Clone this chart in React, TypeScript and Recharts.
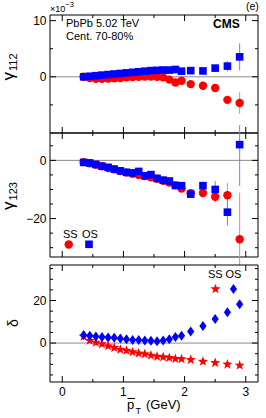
import React from 'react';
import { ScatterChart, Scatter, XAxis, YAxis, ErrorBar, ReferenceLine, ReferenceArea } from 'recharts';

// mean pT bins (GeV)
const ptBins = [0.35, 0.45, 0.55, 0.65, 0.75, 0.85, 0.95, 1.05, 1.15, 1.25, 1.35, 1.45, 1.55, 1.65, 1.75, 1.85, 1.95, 2.1, 2.3, 2.5, 2.7, 2.9];

// gamma112 (x10^-3)
const g112SS = [0.0, -0.2, -0.35, -0.35, -0.3, -0.25, -0.2, -0.1, -0.05, 0.0, 0.05, 0.05, 0.0, -0.1, -0.5, -1.0, -0.7, -1.3, -1.6, -2.0, -4.1, -4.65];
const g112SSErr = [0.05, 0.05, 0.05, 0.05, 0.05, 0.05, 0.05, 0.05, 0.05, 0.05, 0.05, 0.05, 0.05, 0.05, 0.1, 0.1, 0.1, 0.15, 0.2, 0.25, 0.4, 1.9];
const g112OS = [0.0, 0.1, 0.2, 0.3, 0.4, 0.5, 0.6, 0.7, 0.8, 0.9, 1.0, 1.1, 1.15, 1.2, 1.2, 1.3, 1.0, 1.1, 1.05, 1.55, 1.9, 3.55];
const g112OSErr = [0.05, 0.05, 0.05, 0.05, 0.05, 0.05, 0.05, 0.05, 0.05, 0.05, 0.05, 0.05, 0.05, 0.05, 0.1, 0.1, 0.1, 0.15, 0.2, 0.3, 0.9, 2.4];

// gamma123 (x10^-3)
const g123SS = [-0.6, -1.0, -1.5, -2.0, -2.6, -3.1, -3.7, -4.2, -4.6, -5.0, -5.4, -5.8, -6.3, -7.0, -7.6, -8.6, -9.7, -11.3, -11.2, -12.5, -12.0, -27.1];
const g123SSErr = [0.1, 0.1, 0.1, 0.1, 0.1, 0.1, 0.1, 0.1, 0.1, 0.2, 0.2, 0.2, 0.3, 0.3, 0.4, 0.5, 0.6, 0.8, 1.0, 2.0, 4.2, 16];
const g123OS = [-0.7, -0.9, -1.4, -2.0, -2.4, -3.0, -3.6, -4.1, -4.3, -3.8, -5.3, -4.9, -6.2, -6.8, -7.1, -8.6, -8.7, -11.6, -8.7, -10.0, -17.8, 5.4];
const g123OSErr = [0.1, 0.1, 0.1, 0.1, 0.1, 0.1, 0.1, 0.1, 0.1, 0.2, 0.2, 0.2, 0.3, 0.3, 0.4, 0.5, 0.6, 0.8, 1.4, 2.9, 4.6, 14.2];

// delta (x10^-3)
const deltaSS = [3.1, 1.2, 0.3, -0.5, -1.4, -2.2, -3.1, -3.5, -4.2, -4.8, -5.2, -5.8, -6.3, -6.6, -6.9, -7.4, -7.5, -7.9, -8.7, -9.3, -10.0, -10.5];
const deltaOS = [3.8, 3.4, 3.1, 2.8, 2.6, 2.5, 2.2, 1.8, 1.5, 1.4, 1.2, 1.1, 0.9, 1.2, 1.8, 2.8, 3.4, 5.4, 8.0, 11.3, 14.5, 18.3];

// axes
const xDomain = [-0.2, 3.2];
const xTicks = [0, 0.5, 1, 1.5, 2, 2.5, 3];
const g112Domain = [-10, 11];
const g112Ticks = [-5, 0, 5, 10];
const g112Labels = [0, 10];
const g123Domain = [-33.2, 9.4];
const g123Ticks = [5, 0, -5, -10, -15, -20, -25, -30];
const g123Labels = [0, -20];
const deltaDomain = [-18.3, 36.7];
const deltaTicks = [-15, -10, -5, 0, 5, 10, 15, 20, 25, 30, 35];
const deltaLabels = [0, 20];

const FONT = '"Liberation Sans", Arial, Helvetica, sans-serif';
const RED = '#ff0000';
const BLUE = '#0000ff';
const PLOT_W = 208;

const toPoints = (ys: number[], errs?: number[]) =>
  ptBins.map((x, i) => ({ x, y: ys[i], err: errs ? errs[i] : 0 }));

const fmt = (v: number) => (v < 0 ? '\u2212' + Math.abs(v) : String(v));

const Circle = (p: any) => <circle cx={p.cx} cy={p.cy} r={4.2} fill={RED} />;
const Square = (p: any) => <rect x={p.cx - 3.8} y={p.cy - 3.8} width={7.6} height={7.6} fill={BLUE} />;
const Diamond = (p: any) => (
  <path d={`M${p.cx},${p.cy - 5}L${p.cx + 3.6},${p.cy}L${p.cx},${p.cy + 5}L${p.cx - 3.6},${p.cy}Z`} fill={BLUE} />
);
const starPath = (cx: number, cy: number) => {
  let d = '';
  for (let i = 0; i < 10; i++) {
    const r = i % 2 === 0 ? 5.3 : 2.2;
    const a = -Math.PI / 2 + (i * Math.PI) / 5;
    d += (i === 0 ? 'M' : 'L') + (cx + r * Math.cos(a)).toFixed(2) + ',' + (cy + r * Math.sin(a)).toFixed(2);
  }
  return d + 'Z';
};
const Star = (p: any) => <path d={starPath(p.cx, p.cy)} fill={RED} />;

// inside ticks on left + right edges, labels on the left
const makeYTick = (labels: number[]) => (props: any) => {
  const { x, y, payload } = props;
  const major = labels.includes(payload.value);
  const len = major ? 6 : 3;
  return (
    <g>
      <line x1={x} x2={x + len} y1={y} y2={y} stroke="#000" />
      <line x1={x + PLOT_W} x2={x + PLOT_W - len} y1={y} y2={y} stroke="#000" />
      {major && (
        <text x={x - 3.5} y={y} dy="0.36em" textAnchor="end" fontSize={12} fontFamily={FONT} fill="#000">
          {fmt(payload.value)}
        </text>
      )}
    </g>
  );
};

// inside ticks on bottom + top edges
const makeXTick = (plotH: number, showLabels: boolean) => (props: any) => {
  const { x, y, payload } = props;
  const major = Number.isInteger(payload.value);
  const len = major ? 6 : 3;
  return (
    <g>
      <line x1={x} x2={x} y1={y} y2={y - len} stroke="#000" />
      <line x1={x} x2={x} y1={y - plotH} y2={y - plotH + len} stroke="#000" />
      {showLabels && major && (
        <text x={x} y={y + 14} textAnchor="middle" fontSize={12} fontFamily={FONT} fill="#000">
          {payload.value}
        </text>
      )}
    </g>
  );
};

type PanelProps = {
  top: number;
  height: number;
  mTop: number;
  mBottom: number;
  domain: number[];
  ticks: number[];
  labels: number[];
  ss: any[];
  os: any[];
  ssShape: any;
  osShape: any;
  errors: boolean;
  showX: boolean;
};

const Panel = ({ top, height, mTop, mBottom, domain, ticks, labels, ss, os, ssShape, osShape, errors, showX }: PanelProps) => {
  const plotH = height - mTop - mBottom;
  return (
    <div style={{ position: 'absolute', left: 0, top, width: 266, height }}>
      <ScatterChart width={266} height={height} margin={{ top: mTop, bottom: mBottom - 1, left: 49, right: 8 }}>
        <XAxis
          type="number"
          dataKey="x"
          domain={xDomain}
          ticks={xTicks}
          interval={0}
          allowDataOverflow
          height={1}
          tickSize={0}
          tickMargin={0}
          axisLine={false}
          tickLine={false}
          tick={makeXTick(plotH, showX)}
        />
        <YAxis
          type="number"
          dataKey="y"
          domain={domain}
          ticks={ticks}
          interval={0}
          allowDataOverflow
          width={1}
          tickSize={0}
          tickMargin={0}
          axisLine={false}
          tickLine={false}
          tick={makeYTick(labels)}
        />
        <ReferenceLine y={0} stroke="#8a8a8a" strokeWidth={1} />
        <Scatter data={ss} fill={RED} shape={ssShape} isAnimationActive={false}>
          {errors && <ErrorBar dataKey="err" direction="y" width={0} stroke="#ff7a7a" strokeWidth={1} />}
        </Scatter>
        <Scatter data={os} fill={BLUE} shape={osShape} isAnimationActive={false}>
          {errors && <ErrorBar dataKey="err" direction="y" width={0} stroke="#7a7aff" strokeWidth={1} />}
        </Scatter>
        <ReferenceArea
          x1={xDomain[0]}
          x2={xDomain[1]}
          y1={domain[0]}
          y2={domain[1]}
          fill="none"
          fillOpacity={0}
          stroke="#000"
          strokeWidth={1}
          ifOverflow="visible"
        />
      </ScatterChart>
    </div>
  );
};

const txt = { fontFamily: FONT, fill: '#000' };

export default function App() {
  return (
    <div style={{ position: 'absolute', left: 0, top: 0, width: 266, height: 418, background: '#fff', overflow: 'hidden' }}>
      <Panel
        top={0}
        height={140}
        mTop={15}
        mBottom={7}
        domain={g112Domain}
        ticks={g112Ticks}
        labels={g112Labels}
        ss={toPoints(g112SS, g112SSErr)}
        os={toPoints(g112OS, g112OSErr)}
        ssShape={Circle}
        osShape={Square}
        errors
        showX={false}
      />
      <Panel
        top={125}
        height={140}
        mTop={8}
        mBottom={8}
        domain={g123Domain}
        ticks={g123Ticks}
        labels={g123Labels}
        ss={toPoints(g123SS, g123SSErr)}
        os={toPoints(g123OS, g123OSErr)}
        ssShape={Circle}
        osShape={Square}
        errors
        showX={false}
      />
      <Panel
        top={255}
        height={163}
        mTop={10}
        mBottom={36}
        domain={deltaDomain}
        ticks={deltaTicks}
        labels={deltaLabels}
        ss={toPoints(deltaSS)}
        os={toPoints(deltaOS)}
        ssShape={Star}
        osShape={Diamond}
        errors={false}
        showX
      />
      <svg width={266} height={418} style={{ position: 'absolute', left: 0, top: 0, pointerEvents: 'none' }}>
        {/* panel 1 annotations */}
        <text x={50} y={12} fontSize={9} {...txt}>
          ×10
          <tspan fontSize={7.5} dy={-5}>{'\u2212'}3</tspan>
        </text>
        <text x={246} y={10} fontSize={10.5} {...txt}>(e)</text>
        <text x={66} y={27} fontSize={11} {...txt}>PbPb 5.02 TeV</text>
        <text x={66} y={39.5} fontSize={11} {...txt}>Cent. 70-80%</text>
        <text x={213} y={27.5} fontSize={12} fontWeight="bold" {...txt}>CMS</text>

        {/* y titles */}
        <text x={13.5} y={67} transform="rotate(-90 13.5 67)" textAnchor="middle" {...txt}>
          <tspan fontSize={17}>γ</tspan>
          <tspan fontSize={11} dy={3.5} dx={1}>112</tspan>
        </text>
        <text x={13.5} y={196} transform="rotate(-90 13.5 196)" textAnchor="middle" {...txt}>
          <tspan fontSize={17}>γ</tspan>
          <tspan fontSize={11} dy={3.5} dx={1}>123</tspan>
        </text>
        <text x={18} y={323} transform="rotate(-90 18 323)" textAnchor="middle" fontSize={14} {...txt}>δ</text>

        {/* panel 2 legend */}
        <text x={63} y={237.5} fontSize={11} {...txt}>SS</text>
        <text x={82} y={237.5} fontSize={11} {...txt}>OS</text>
        <Circle cx={68.7} cy={244.5} />
        <Square cx={89} cy={244.3} />

        {/* panel 3 legend */}
        <text x={208} y={278} fontSize={11} {...txt}>SS</text>
        <text x={225.5} y={278} fontSize={11} {...txt}>OS</text>
        <Star cx={215.5} cy={289} />
        <Diamond cx={233.5} cy={289} />

        {/* x title */}
        <text x={127} y={409} fontSize={13} {...txt}>p</text>
        <line x1={127.5} x2={135} y1={398.5} y2={398.5} stroke="#000" strokeWidth={1} />
        <text x={135.5} y={414} fontSize={9} {...txt}>T</text>
        <text x={146} y={409} fontSize={13} {...txt}>(GeV)</text>
      </svg>
    </div>
  );
}
